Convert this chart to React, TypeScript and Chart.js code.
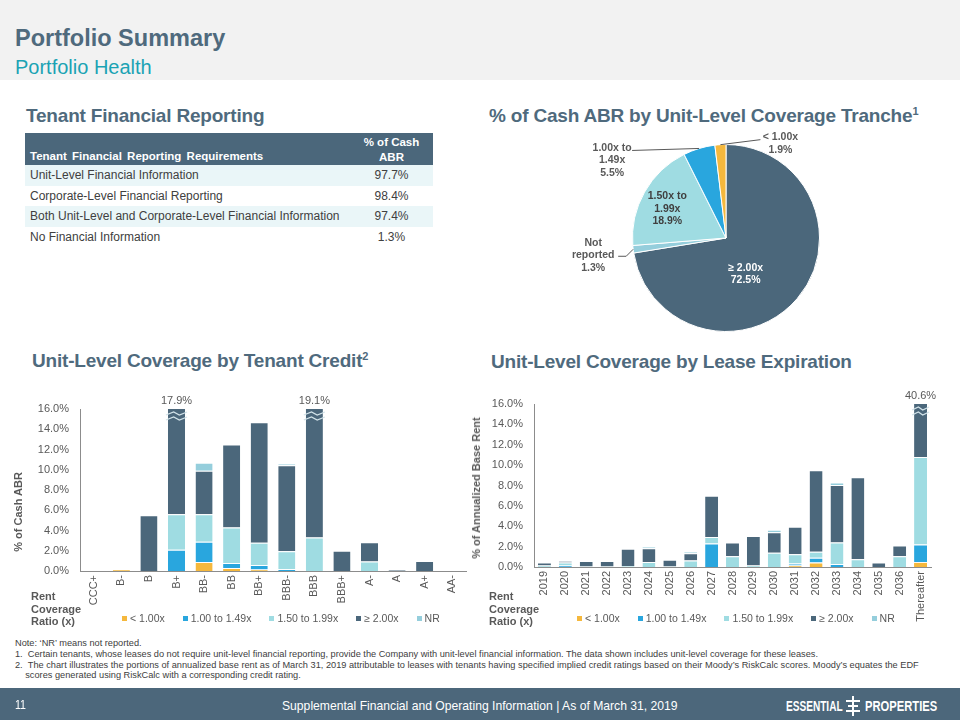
import React, { useEffect, useRef } from "react";
import { Chart, registerables } from "chart.js";

Chart.register(...registerables);

const FONT = "'Liberation Sans', Arial, Helvetica, sans-serif";

// ---------------- Data ----------------
const tableHeader = ["Tenant Financial Reporting Requirements", "% of Cash ABR"];
const tableRows = [
  "Unit-Level Financial Information",
  "Corporate-Level Financial Reporting",
  "Both Unit-Level and Corporate-Level Financial Information",
  "No Financial Information",
];
const tableValues = ["97.7%", "98.4%", "97.4%", "1.3%"];

const pieLabels = ["≥ 2.00x", "Not reported", "1.50x to 1.99x", "1.00x to 1.49x", "< 1.00x"];
const pieValues = [72.5, 1.3, 18.9, 5.5, 1.9];
const pieLabelLines = [
  ["≥ 2.00x", "72.5%"],
  ["Not", "reported", "1.3%"],
  ["1.50x to", "1.99x", "18.9%"],
  ["1.00x to", "1.49x", "5.5%"],
  ["< 1.00x", "1.9%"],
];

const seriesNames = ["< 1.00x", "1.00 to 1.49x", "1.50 to 1.99x", "≥ 2.00x", "NR"];

const creditCategories = ["CCC+", "B-", "B", "B+", "BB-", "BB", "BB+", "BBB-", "BBB", "BBB+", "A-", "A", "A+", "AA-"];
const creditLt100 = [0, 0.15, 0, 0, 0.9, 0.3, 0.15, 0, 0, 0, 0, 0, 0, 0];
const credit100to149 = [0, 0, 0, 2.1, 2.0, 0.5, 0.45, 0.2, 0, 0, 0, 0, 0, 0];
const credit150to199 = [0, 0, 0, 3.5, 2.7, 3.5, 2.2, 1.75, 3.3, 0, 0.95, 0, 0, 0];
const creditGe200 = [0, 0, 5.5, 12.3, 4.3, 8.2, 11.9, 8.5, 15.8, 2.0, 1.9, 0.12, 1.0, 0];
const creditNR = [0, 0, 0, 0, 0.8, 0, 0, 0.15, 0, 0, 0, 0, 0, 0];

const expirationYears = ["2019", "2020", "2021", "2022", "2023", "2024", "2025", "2026", "2027", "2028", "2029", "2030", "2031", "2032", "2033", "2034", "2035", "2036", "Thereafter"];
const expLt100 = [0, 0, 0, 0, 0, 0, 0, 0, 0, 0, 0, 0, 0.15, 0.45, 0, 0, 0, 0, 0.5];
const exp100to149 = [0, 0.15, 0, 0, 0, 0, 0, 0, 2.3, 0, 0, 0, 0.2, 0.45, 0.3, 0, 0, 0, 1.7];
const exp150to199 = [0.15, 0.3, 0.05, 0.05, 0.1, 0.5, 0.05, 0.65, 0.65, 1.05, 0.15, 1.4, 0.9, 0.6, 2.1, 0.75, 0, 1.05, 8.6];
const expGe200 = [0.3, 0.15, 0.55, 0.55, 1.7, 1.35, 0.65, 0.7, 4.05, 1.35, 2.9, 2.0, 2.7, 8.0, 5.65, 8.05, 0.45, 1.05, 29.8];
const expNR = [0, 0, 0, 0, 0, 0.15, 0, 0.15, 0, 0, 0, 0.25, 0, 0, 0.25, 0, 0, 0, 0];

const yAxisMax = 16;
const yAxisStep = 2;

const footnotes = [
  "Note: ‘NR’ means not reported.",
  "1.\u00a0\u00a0Certain tenants, whose leases do not require unit-level financial reporting, provide the Company with unit-level financial information. The data shown includes unit-level coverage for these leases.",
  "2.\u00a0\u00a0The chart illustrates the portions of annualized base rent as of March 31, 2019 attributable to leases with tenants having specified implied credit ratings based on their Moody’s RiskCalc scores. Moody’s equates the EDF",
  "\u00a0\u00a0\u00a0\u00a0scores generated using RiskCalc with a corresponding credit rating.",
];

// ---------------- Styles ----------------
const DARK = "#4B677B";
const C_LT100 = "#F5B83D";
const C_100 = "#29A6DE";
const C_150 = "#9FDCE2";
const C_GE200 = "#4B677B";
const C_NR = "#95CEDC";
const seriesColors = [C_LT100, C_100, C_150, C_GE200, C_NR];
const pieColors = [C_GE200, C_NR, C_150, C_100, C_LT100];
const TITLE = "#4F6A7D";
const AXIS_TEXT = "#595959";

// label placement for pie (offsets relative to arc anchor)
const pieLabelPlacement = [
  { outside: false, dx: -16, dy: 6, color: "#FFFFFF" },
  { outside: true, dx: -40, dy: 6, color: "#595959", leader: [[-7, 7], [-15, 7]] },
  { outside: false, dx: -18, dy: -6, color: "#404040" },
  { outside: true, dx: -87, dy: 12, color: "#595959", leader: [[-67, 2]] },
  { outside: true, dx: 60, dy: -1, color: "#595959", leader: [[40, -5]] },
];

const pieLabelPlugin = {
  id: "pieLabels",
  afterDatasetsDraw(chart: any) {
    const ctx = chart.ctx;
    const meta = chart.getDatasetMeta(0);
    const LH = 12.5;
    ctx.save();
    ctx.font = `bold 10.5px ${FONT}`;
    ctx.textAlign = "center";
    ctx.textBaseline = "middle";
    meta.data.forEach((arc: any, i: number) => {
      const cfg = pieLabelPlacement[i];
      const lines = pieLabelLines[i];
      const mid = (arc.startAngle + arc.endAngle) / 2;
      let ax: number, ay: number;
      if (cfg.outside) {
        ax = arc.x + Math.cos(mid) * arc.outerRadius;
        ay = arc.y + Math.sin(mid) * arc.outerRadius;
      } else {
        const p = arc.tooltipPosition();
        ax = p.x;
        ay = p.y;
      }
      if (cfg.leader) {
        ctx.strokeStyle = "#595959";
        ctx.lineWidth = 1;
        ctx.beginPath();
        ctx.moveTo(ax, ay);
        cfg.leader.forEach(([dx, dy]: number[]) => ctx.lineTo(ax + dx, ay + dy));
        ctx.stroke();
      }
      ctx.fillStyle = cfg.color;
      const cx = ax + cfg.dx;
      const cy = ay + cfg.dy;
      lines.forEach((ln, k) => {
        ctx.fillText(ln, cx, cy + (k - (lines.length - 1) / 2) * LH);
      });
    });
    ctx.restore();
  },
};

const breakPlugin = {
  id: "axisBreak",
  afterDatasetsDraw(chart: any) {
    const { ctx, chartArea, scales } = chart;
    const max = scales.y.max;
    const n = chart.data.labels.length;
    for (let i = 0; i < n; i++) {
      let total = 0;
      chart.data.datasets.forEach((ds: any) => (total += ds.data[i] || 0));
      if (total <= max) continue;
      const el = chart.getDatasetMeta(0).data[i];
      const x = el.x;
      const w = el.width;
      const t = chartArea.top;
      ctx.save();
      ctx.strokeStyle = "#D3E4EA";
      ctx.lineWidth = 1.3;
      [0, 5].forEach((k) => {
        ctx.beginPath();
        ctx.moveTo(x - w / 2 - 2, t + 6 + k);
        ctx.lineTo(x - w / 6, t + 3 + k);
        ctx.lineTo(x + w / 6, t + 6 + k);
        ctx.lineTo(x + w / 2 + 2, t + 3 + k);
        ctx.stroke();
      });
      ctx.fillStyle = AXIS_TEXT;
      ctx.font = `11px ${FONT}`;
      ctx.textAlign = "center";
      ctx.textBaseline = "bottom";
      ctx.fillText(total.toFixed(1) + "%", x, t - 3);
      ctx.restore();
    }
  },
};

type BarProps = {
  left: number;
  top: number;
  width: number;
  height: number;
  categories: string[];
  series: number[][];
  padding: { left: number; right: number; top: number; bottom: number };
  yAxisWidth: number;
  xAxisHeight: number;
};

function StackedBar(p: BarProps) {
  const ref = useRef<HTMLCanvasElement>(null);
  useEffect(() => {
    const chart = new Chart(ref.current as HTMLCanvasElement, {
      type: "bar",
      data: {
        labels: p.categories,
        datasets: p.series.map((d, i) => ({
          label: seriesNames[i],
          data: d,
          backgroundColor: seriesColors[i],
          borderColor: "#FFFFFF",
          borderWidth: { top: 1, left: 0, right: 0, bottom: 0 },
          borderSkipped: false,
          barPercentage: 0.62,
          categoryPercentage: 1,
          clip: 0,
        })),
      } as any,
      options: {
        responsive: false,
        animation: false,
        layout: { padding: p.padding },
        plugins: { legend: { display: false }, tooltip: { enabled: false } },
        scales: {
          x: {
            stacked: true,
            grid: { display: false, drawTicks: false },
            border: { display: true, color: "#8C8C8C" },
            ticks: {
              autoSkip: false,
              minRotation: 90,
              maxRotation: 90,
              padding: 4,
              color: AXIS_TEXT,
              font: { size: 11, family: FONT },
            },
            afterFit: (s: any) => {
              s.height = p.xAxisHeight;
            },
          },
          y: {
            stacked: true,
            min: 0,
            max: yAxisMax,
            grid: { display: false, drawTicks: false },
            border: { display: true, color: "#8C8C8C" },
            ticks: {
              stepSize: yAxisStep,
              padding: 11,
              color: AXIS_TEXT,
              font: { size: 11, family: FONT },
              callback: (v: any) => Number(v).toFixed(1) + "%",
            },
            afterFit: (s: any) => {
              s.width = p.yAxisWidth;
            },
          },
        },
      } as any,
      plugins: [breakPlugin],
    });
    return () => chart.destroy();
  }, []);
  return (
    <canvas
      ref={ref}
      width={p.width}
      height={p.height}
      style={{ position: "absolute", left: p.left, top: p.top, width: p.width, height: p.height }}
    />
  );
}

function PieChart() {
  const ref = useRef<HTMLCanvasElement>(null);
  useEffect(() => {
    const chart = new Chart(ref.current as HTMLCanvasElement, {
      type: "pie",
      data: {
        labels: pieLabels,
        datasets: [
          {
            data: pieValues,
            backgroundColor: pieColors,
            borderColor: "#FFFFFF",
            borderWidth: 1,
          },
        ],
      },
      options: {
        responsive: false,
        animation: false,
        layout: { padding: { left: 72, top: 19, right: 40, bottom: 13 } },
        plugins: { legend: { display: false }, tooltip: { enabled: false } },
      } as any,
      plugins: [pieLabelPlugin],
    });
    return () => chart.destroy();
  }, []);
  return (
    <canvas ref={ref} width={300} height={220} style={{ position: "absolute", left: 560, top: 125, width: 300, height: 220 }} />
  );
}

function Legend({ left, top }: { left: number; top: number }) {
  return (
    <div
      style={{
        position: "absolute",
        left,
        top,
        display: "flex",
        alignItems: "center",
        gap: 18,
        fontFamily: FONT,
        fontSize: 10.5,
        color: AXIS_TEXT,
        whiteSpace: "nowrap",
        height: 14,
      }}
    >
      {seriesNames.map((n, i) => (
        <div key={n} style={{ display: "flex", alignItems: "center" }}>
          <span style={{ width: 5, height: 5, background: seriesColors[i], display: "inline-block", marginRight: 3 }} />
          <span>{n}</span>
        </div>
      ))}
    </div>
  );
}

function RentLabel({ left }: { left: number }) {
  return (
    <div
      style={{
        position: "absolute",
        left,
        top: 590,
        fontFamily: FONT,
        fontSize: 11,
        fontWeight: "bold",
        color: AXIS_TEXT,
        lineHeight: "12.5px",
      }}
    >
      Rent
      <br />
      Coverage
      <br />
      Ratio (x)
    </div>
  );
}

function AxisTitle({ cx, cy, text }: { cx: number; cy: number; text: string }) {
  return (
    <div
      style={{
        position: "absolute",
        left: cx,
        top: cy,
        transform: "translate(-50%, -50%) rotate(-90deg)",
        fontFamily: FONT,
        fontSize: 11,
        fontWeight: "bold",
        color: AXIS_TEXT,
        whiteSpace: "nowrap",
        lineHeight: "12px",
      }}
    >
      {text}
    </div>
  );
}

function SectionTitle({ left, top, children }: { left: number; top: number; children: any }) {
  return (
    <div
      style={{
        position: "absolute",
        left,
        top,
        fontFamily: FONT,
        fontSize: 19,
        fontWeight: "bold",
        color: TITLE,
        lineHeight: "19px",
        whiteSpace: "nowrap",
        letterSpacing: -0.2,
      }}
    >
      {children}
    </div>
  );
}

function Table() {
  const rowH = 20.7;
  return (
    <div style={{ position: "absolute", left: 25, top: 133, width: 408, fontFamily: FONT }}>
      <div style={{ height: 32, background: DARK, position: "relative", color: "#FFFFFF", fontWeight: "bold", fontSize: 11.5 }}>
        <div style={{ position: "absolute", left: 5, top: 16, lineHeight: "14px", wordSpacing: 2, whiteSpace: "nowrap" }}>{tableHeader[0]}</div>
        <div style={{ position: "absolute", left: 325, width: 83, top: 2, lineHeight: "14.5px", textAlign: "center" }}>
          % of Cash
          <br />
          ABR
        </div>
      </div>
      {tableRows.map((r, i) => (
        <div
          key={r}
          style={{
            height: rowH,
            background: i % 2 === 0 ? "#EAF6F8" : "#FFFFFF",
            position: "relative",
            fontSize: 12,
            color: "#404040",
            lineHeight: `${rowH}px`,
          }}
        >
          <div style={{ position: "absolute", left: 5, top: 0, whiteSpace: "nowrap" }}>{r}</div>
          <div style={{ position: "absolute", left: 325, width: 83, top: 0, textAlign: "center" }}>{tableValues[i]}</div>
        </div>
      ))}
    </div>
  );
}

function Condensed({ text, size, scale, color }: { text: string; size: number; scale: number; color: string }) {
  return (
    <span
      style={{
        display: "inline-block",
        transform: `scaleX(${scale})`,
        transformOrigin: "left center",
        fontSize: size,
        color,
        whiteSpace: "nowrap",
        fontFamily: FONT,
      }}
    >
      {text}
    </span>
  );
}

export default function App() {
  return (
    <div style={{ position: "absolute", left: 0, top: 0, width: 960, height: 720, background: "#FFFFFF", overflow: "hidden", fontFamily: FONT }}>
      {/* header band */}
      <div style={{ position: "absolute", left: 0, top: 0, width: 960, height: 80, background: "#F2F2F2" }} />
      <div style={{ position: "absolute", left: 15, top: 27, fontSize: 23.5, fontWeight: "bold", color: TITLE, lineHeight: "23.5px", whiteSpace: "nowrap" }}>
        Portfolio Summary
      </div>
      <div style={{ position: "absolute", left: 15, top: 57, fontSize: 20, color: "#1BA3B4", lineHeight: "20px", whiteSpace: "nowrap" }}>
        Portfolio Health
      </div>

      <SectionTitle left={26} top={106}>Tenant Financial Reporting</SectionTitle>
      <SectionTitle left={489} top={106}>
        % of Cash ABR by Unit-Level Coverage Tranche<sup style={{ fontSize: 11, verticalAlign: "top", lineHeight: "11px" }}>1</sup>
      </SectionTitle>
      <SectionTitle left={32} top={351}>
        Unit-Level Coverage by Tenant Credit<sup style={{ fontSize: 11, verticalAlign: "top", lineHeight: "11px" }}>2</sup>
      </SectionTitle>
      <SectionTitle left={491} top={352}>Unit-Level Coverage by Lease Expiration</SectionTitle>

      <Table />
      <PieChart />

      <StackedBar
        left={0}
        top={380}
        width={480}
        height={250}
        categories={creditCategories}
        series={[creditLt100, credit100to149, credit150to199, creditGe200, creditNR]}
        padding={{ left: 0, right: 14, top: 29, bottom: 14 }}
        yAxisWidth={80}
        xAxisHeight={45}
      />
      <AxisTitle cx={18} cy={512} text="% of Cash ABR" />
      <RentLabel left={31} />
      <Legend left={122} top={611} />

      <StackedBar
        left={470}
        top={375}
        width={490}
        height={255}
        categories={expirationYears}
        series={[expLt100, exp100to149, exp150to199, expGe200, expNR]}
        padding={{ left: 0, right: 29, top: 29, bottom: 5 }}
        yAxisWidth={64}
        xAxisHeight={58}
      />
      <AxisTitle cx={476} cy={488} text="% of Annualized Base Rent" />
      <RentLabel left={489} />
      <Legend left={577} top={611} />

      {/* footnotes */}
      <div style={{ position: "absolute", left: 15, top: 636, lineHeight: "10.8px", color: "#404040" }}>
        {footnotes.map((f, i) => (
          <div key={i} style={{ height: 10.8 }}>
            <Condensed text={f} size={9.5} scale={0.97} color="#404040" />
          </div>
        ))}
      </div>

      {/* footer */}
      <div style={{ position: "absolute", left: 0, top: 688, width: 960, height: 32, background: "#4C677B" }} />
      <div style={{ position: "absolute", left: 15, top: 698, color: "#FFFFFF", fontSize: 12, lineHeight: "14px" }}>
        <Condensed text="11" size={12.5} scale={0.85} color="#FFFFFF" />
      </div>
      <div style={{ position: "absolute", left: 282, top: 697, lineHeight: "16px" }}>
        <Condensed text="Supplemental Financial and Operating Information | As of March 31, 2019" size={13.5} scale={0.9} color="#FFFFFF" />
      </div>
      <div style={{ position: "absolute", left: 786, top: 697, height: 18, lineHeight: "18px", fontWeight: "bold" }}>
        <span style={{ display: "inline-block", transform: "scaleX(0.72)", transformOrigin: "left center", fontSize: 14, color: "#FFFFFF", fontWeight: "bold", whiteSpace: "nowrap" }}>
          ESSENTIAL
        </span>
      </div>
      <div style={{ position: "absolute", left: 846, top: 696, width: 14, height: 20 }}>
        <div style={{ position: "absolute", left: 6, top: 0, width: 2, height: 20, background: "#FFFFFF" }} />
        <div style={{ position: "absolute", left: 0, top: 4, width: 14, height: 2, background: "#FFFFFF" }} />
        <div style={{ position: "absolute", left: 2, top: 9, width: 10, height: 2, background: "#FFFFFF" }} />
        <div style={{ position: "absolute", left: 0, top: 14, width: 14, height: 2, background: "#FFFFFF" }} />
      </div>
      <div style={{ position: "absolute", left: 865, top: 697, height: 18, lineHeight: "18px" }}>
        <span style={{ display: "inline-block", transform: "scaleX(0.8)", transformOrigin: "left center", fontSize: 14, color: "#FFFFFF", fontWeight: "bold", whiteSpace: "nowrap" }}>
          PROPERTIES
        </span>
      </div>
    </div>
  );
}
